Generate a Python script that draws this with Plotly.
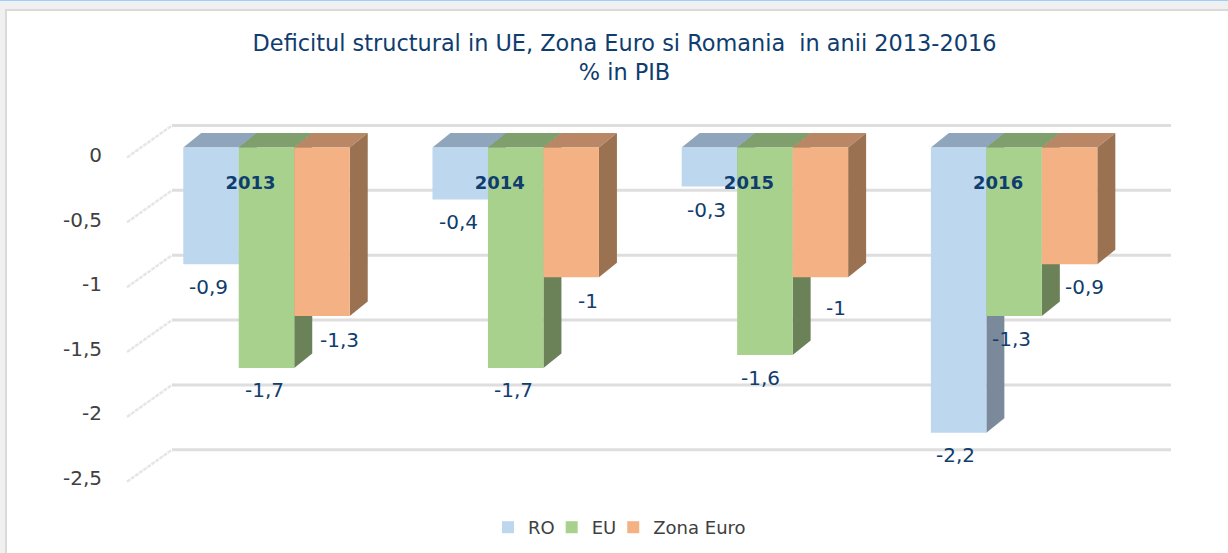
import plotly.graph_objects as go

# ---- data ----
categories = ["2013", "2014", "2015", "2016"]
series_names = ["RO", "EU", "Zona Euro"]
ro_values = [-0.9, -0.4, -0.3, -2.2]
eu_values = [-1.7, -1.7, -1.6, -1.3]
zona_values = [-1.3, -1.0, -1.0, -0.9]
tick_values = [0, -0.5, -1, -1.5, -2, -2.5]
tick_labels = ["0", "-0,5", "-1", "-1,5", "-2", "-2,5"]
title_text = "Deficitul structural in UE, Zona Euro si Romania  in anii 2013-2016<br>% in PIB"

# ---- styling ----
W, H = 1228, 553
L, R, T, B = 103, W, 0, H                  # plot area in pixels
X0_PX, X_UNIT = 266.5, 249.2               # first category centre, px per category
Y0_PX, Y_UNIT = 147.5, 129.7               # zero line, px per unit
front = ["#BDD7EE", "#A9D18E", "#F4B183"]
top_face = ["#8FA5BB", "#7F9F6C", "#B98765"]
side_face = ["#7A8A9B", "#6B8259", "#9A7252"]
NAVY = "#0F3D6E"
FONT = "DejaVu Sans"
BARGAP = 0.332
DX, DY = 18 / X_UNIT, 14.5 / Y_UNIT        # depth of the bars in data units

values = [ro_values, eu_values, zona_values]
xpos = list(range(len(categories)))
bw = (1 - BARGAP) / 3

# label nudges (px) per series/category
label_dx = [[-3, -2, -3, -3], [-2, -2, -4, -3], [18, 17, 16, 15]]
label_dy = [[23, 23, 24, 22], [22, 22, 23, 23], [24, 24, 31, 23]]


def px_x(p):
    return (p - L) / (R - L)


def px_y(p):
    return (B - p) / (B - T)


shapes = []
# window chrome
for x0, x1, y0, y1, col in [(-L, W, 0, 10, "#F0F0F0"), (-L, 6, 10, H, "#F0F0F0"), (-L, W, 0, 1, "#9CCFFF"),
                            (5, W, 9, 11, "#D9D9D9"), (5, 7, 9, H, "#D9D9D9")]:
    shapes.append(dict(type="rect", xref="paper", yref="paper", layer="below", line_width=0, fillcolor=col,
                       x0=px_x(x0), x1=px_x(x1), y0=px_y(y0), y1=px_y(y1)))

# back wall gridlines and slanted side-wall lines
WALL_UP = 22 / Y_UNIT
grid_l, grid_r = (172 - X0_PX) / X_UNIT, (1171 - X0_PX) / X_UNIT
slant_l = (127 - X0_PX) / X_UNIT
for v in tick_values:
    yb = v + WALL_UP
    shapes.append(dict(type="line", xref="x", yref="y", layer="below", x0=grid_l, x1=grid_r, y0=yb, y1=yb,
                       line=dict(color="#DEDEDE", width=3)))
    shapes.append(dict(type="line", xref="x", yref="y", layer="below", x0=slant_l, x1=grid_l,
                       y0=yb - 32 / Y_UNIT, y1=yb, line=dict(color="#E6E6E6", width=2.5, dash="4px,1px")))

# 3-D faces, painted back to front under the bars
for c in xpos:
    for i, vals in enumerate(values):
        xc = c + (i - 1) * bw
        lft, rgt, v = xc - bw / 2, xc + bw / 2, vals[c]
        shapes.append(dict(type="path", xref="x", yref="y", layer="below", line_width=0, fillcolor=top_face[i],
                           path=f"M{lft},0 L{rgt},0 L{rgt+DX},{DY} L{lft+DX},{DY} Z"))
        shapes.append(dict(type="path", xref="x", yref="y", layer="below", line_width=0, fillcolor=side_face[i],
                           path=f"M{rgt},0 L{rgt+DX},{DY} L{rgt+DX},{v+DY} L{rgt},{v} Z"))

fig = go.Figure()
for i, name in enumerate(series_names):
    fig.add_trace(go.Bar(x=xpos, y=values[i], name=name, marker=dict(color=front[i], line_width=0), hoverinfo="skip"))

# invisible trace keeps the label axis alive
fig.add_trace(go.Scatter(x=[xpos[0]], y=[0], yaxis="y2", mode="markers", marker=dict(opacity=0), showlegend=False, hoverinfo="skip"))

annotations = []
for i, vals in enumerate(values):
    for c, v in enumerate(vals):
        xc = c + (i - 1) * bw
        annotations.append(dict(x=xc, y=v, xref="x", yref="y", text=f"{v:g}".replace(".", ","), showarrow=False,
                                xshift=label_dx[i][c], yshift=-label_dy[i][c], xanchor="center", yanchor="middle",
                                font=dict(family=FONT, size=20, color=NAVY)))

Y2_UNIT = 129.2
fig.update_layout(
    width=W, height=H, autosize=False,
    margin=dict(l=L, r=W - R, t=T, b=H - B, pad=0),
    paper_bgcolor="white", plot_bgcolor="rgba(0,0,0,0)",
    barmode="group", bargap=BARGAP, bargroupgap=0,
    title=dict(text=title_text, x=624.5 / W, xanchor="center", y=1 - 51 / H, yanchor="top",
               font=dict(family=FONT, size=22.4, color=NAVY)),
    font=dict(family=FONT),
    xaxis=dict(range=[(L - X0_PX) / X_UNIT, (R - X0_PX) / X_UNIT], tickmode="array",
               tickvals=[p - 16 / X_UNIT for p in xpos], ticktext=[f"<b>{c}</b>" for c in categories],
               ticks="", showgrid=False, zeroline=False, showline=False,
               anchor="free", position=(B - 170) / (B - T),
               tickfont=dict(family=FONT, size=18, color=NAVY)),
    yaxis=dict(range=[(Y0_PX - B) / Y_UNIT, (Y0_PX - T) / Y_UNIT], showgrid=False, zeroline=False,
               showline=False, showticklabels=False, ticks=""),
    yaxis2=dict(overlaying="y", side="left", range=[(155 - B) / Y2_UNIT, (155 - T) / Y2_UNIT],
                tickmode="array", tickvals=tick_values, ticktext=tick_labels, showgrid=False, zeroline=False,
                showline=False, ticks="", tickfont=dict(family=FONT, size=20, color="#404040")),
    legend=dict(orientation="h", x=px_x(496), y=px_y(509), xanchor="left", yanchor="top", indentation=-8,
                font=dict(family=FONT, size=18, color="#404040"), itemclick=False, bgcolor="rgba(0,0,0,0)"),
    shapes=shapes, annotations=annotations,
)
fig.write_html("out.html", config=dict(displayModeBar=False), post_script="document.body.style.margin='0';")
